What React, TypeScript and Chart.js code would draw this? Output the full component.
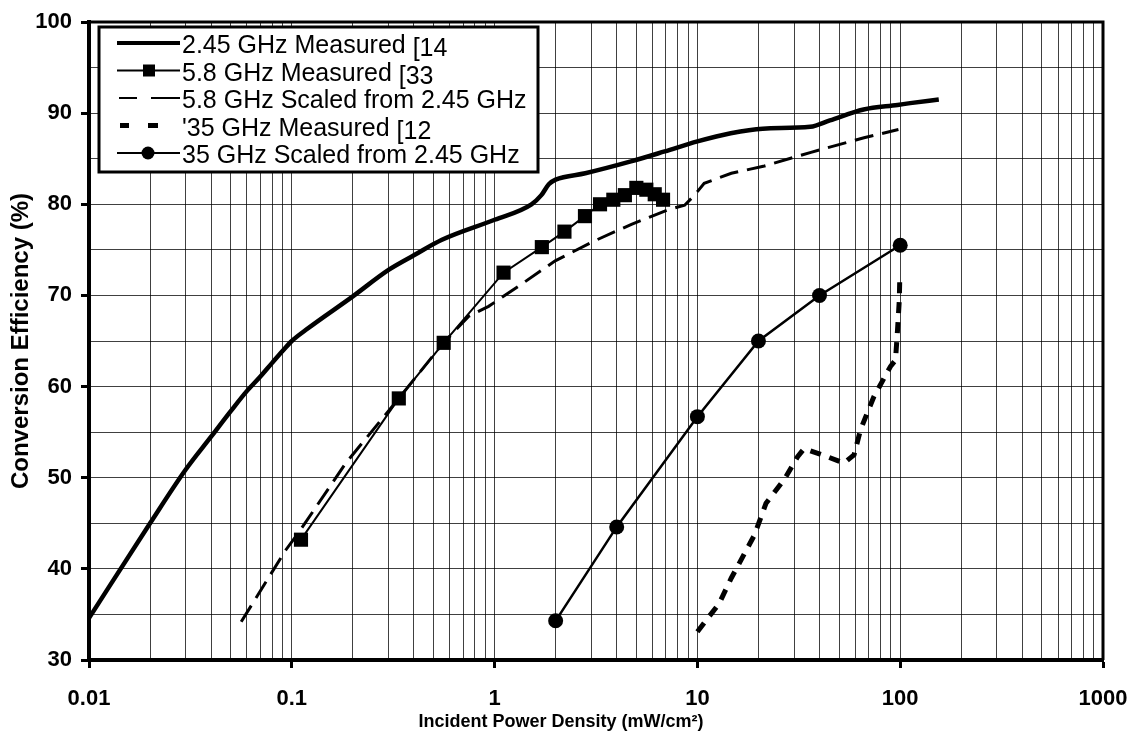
import React, { useEffect, useRef } from 'react';
import { Chart, registerables } from 'chart.js';

Chart.register(...registerables);

// ---------- data ----------
const xTickLabels = ['0.01', '0.1', '1', '10', '100', '1000'];
const yTickLabels = ['30', '40', '50', '60', '70', '80', '90', '100'];
const seriesLabels = [
  '2.45 GHz Measured [14',
  '5.8 GHz Measured [33',
  '5.8 GHz Scaled from 2.45 GHz',
  "'35 GHz Measured [12",
  '35 GHz Scaled from 2.45 GHz',
];
const xTitle = 'Incident Power Density (mW/cm²)';
const yTitle = 'Conversion Efficiency (%)';

const meas245X = [0.01, 0.02, 0.03, 0.04, 0.05, 0.06, 0.07, 0.08, 0.09, 0.1, 0.117, 0.2, 0.3, 0.4, 0.55, 1.0, 1.52, 1.7, 1.85, 2.0, 2.8, 4.7, 6.9, 10, 14.6, 21, 36, 45, 66, 97, 112, 155];
const meas245Y = [34.6, 45.0, 50.9, 54.5, 57.3, 59.5, 61.1, 62.6, 63.9, 65.0, 66.2, 69.9, 72.8, 74.4, 76.1, 78.3, 80.0, 81.0, 82.2, 82.7, 83.4, 84.7, 85.8, 86.9, 87.8, 88.3, 88.5, 89.2, 90.4, 90.9, 91.1, 91.5];

const meas58X = [0.111, 0.337, 0.561, 1.107, 1.71, 2.21, 2.79, 3.31, 3.85, 4.39, 5.0, 5.6, 6.16, 6.77];
const meas58Y = [43.2, 58.7, 64.8, 72.5, 75.3, 77.0, 78.7, 80.0, 80.5, 81.0, 81.8, 81.6, 81.1, 80.5];

const scaled58X = [0.0563, 0.0936, 0.109, 0.1845, 0.337, 0.55, 0.744, 0.934, 1.31, 1.99, 3.12, 4.73, 7.16, 8.65, 9.68, 10.8, 14.7, 21.4, 36.3, 66.3, 98];
const scaled58Y = [34.2, 42.1, 44.1, 51.6, 58.7, 64.6, 67.7, 68.8, 71.0, 73.8, 76.0, 77.8, 79.4, 79.9, 81.0, 82.3, 83.4, 84.2, 85.7, 87.3, 88.2];

const meas35X = [10.0, 12.8, 14.7, 19.1, 21.8, 26.8, 31.2, 33.6, 43.7, 52.8, 59.2, 63.8, 74.2, 89.5, 94.8, 97, 99, 99.6];
const meas35Y = [33.1, 36.2, 39.0, 43.7, 47.2, 49.8, 52.3, 53.2, 52.3, 51.6, 52.5, 55.3, 58.9, 62.2, 62.9, 66.2, 69.5, 72.3];

const scaled35X = [2, 4, 10, 20, 40, 100];
const scaled35Y = [34.3, 44.6, 56.7, 65.0, 70.0, 75.5];

// ---------- helpers ----------
const FONT = "'Liberation Sans', Arial, Helvetica, sans-serif";
const pts = (xs: number[], ys: number[]) => xs.map((x, i) => ({ x, y: ys[i] }));
const decades = xTickLabels.map(Number);
const xTickValues: number[] = [];
decades.forEach((d, i) => {
  if (i === decades.length - 1) {
    xTickValues.push(d);
  } else {
    for (let k = 1; k <= 9; k++) xTickValues.push(Number((k * d).toPrecision(6)));
  }
});
const decadeLabel = (v: number) => {
  const idx = decades.findIndex((d) => Math.abs(Math.log10(v) - Math.log10(d)) < 1e-6);
  return idx >= 0 ? xTickLabels[idx] : '';
};

const legendPlugin = {
  id: 'boxLegend',
  afterDatasetsDraw(chart: any) {
    const { ctx, chartArea } = chart;
    ctx.save();
    ctx.strokeStyle = '#000';
    ctx.lineWidth = 3;
    ctx.beginPath();
    ctx.moveTo(chartArea.left, chartArea.top);
    ctx.lineTo(chartArea.right, chartArea.top);
    ctx.lineTo(chartArea.right, chartArea.bottom);
    ctx.stroke();
    ctx.restore();
  },
  afterDraw(chart: any) {
    const { ctx } = chart;
    ctx.save();
    // x-axis title
    ctx.fillStyle = '#000';
    ctx.font = `bold 18px ${FONT}`;
    ctx.textAlign = 'center';
    ctx.textBaseline = 'alphabetic';
    ctx.fillText(xTitle, 561, 727);

    // legend box
    const bx = 99, by = 27, bw = 439, bh = 145;
    ctx.fillStyle = '#fff';
    ctx.fillRect(bx, by, bw, bh);
    ctx.strokeStyle = '#000';
    ctx.lineWidth = 3;
    ctx.strokeRect(bx, by, bw, bh);

    const rows = [43, 70.5, 98, 125.5, 153];
    const x0 = 117, x1 = 180, xm = 149;
    chart.data.datasets.forEach((ds: any, i: number) => {
      const y = rows[i];
      ctx.strokeStyle = '#000';
      ctx.fillStyle = '#000';
      ctx.setLineDash([]);
      if (i === 0) {
        ctx.lineWidth = 4;
        ctx.beginPath(); ctx.moveTo(x0, y); ctx.lineTo(x1, y); ctx.stroke();
      } else if (i === 1) {
        ctx.lineWidth = 2;
        ctx.beginPath(); ctx.moveTo(x0, y); ctx.lineTo(x1, y); ctx.stroke();
        ctx.fillRect(xm - 6, y - 6, 12, 12);
      } else if (i === 2) {
        ctx.lineWidth = 2;
        ctx.beginPath(); ctx.moveTo(x0 + 2, y); ctx.lineTo(x0 + 20, y); ctx.stroke();
        ctx.beginPath(); ctx.moveTo(x0 + 34, y); ctx.lineTo(x1, y); ctx.stroke();
      } else if (i === 3) {
        ctx.fillRect(x0 + 3, y - 2.5, 9, 5);
        ctx.fillRect(x0 + 31, y - 2.5, 10, 5);
      } else {
        ctx.lineWidth = 2;
        ctx.beginPath(); ctx.moveTo(x0, y); ctx.lineTo(x1, y); ctx.stroke();
        ctx.beginPath(); ctx.arc(xm - 1, y, 6.5, 0, Math.PI * 2); ctx.fill();
      }
      // label
      const label: string = ds.label;
      ctx.font = `25px ${FONT}`;
      ctx.textAlign = 'left';
      ctx.textBaseline = 'alphabetic';
      const bi = label.indexOf('[');
      const tx = 182;
      if (bi >= 0) {
        const main = label.slice(0, bi);
        const suf = label.slice(bi);
        ctx.fillText(main, tx, y + 10);
        const w = ctx.measureText(main).width;
        ctx.fillText(suf, tx + w, y + 13);
      } else {
        ctx.fillText(label, tx, y + 10);
      }
    });
    ctx.restore();
  },
};

export default function App() {
  const ref = useRef<HTMLCanvasElement>(null);
  useEffect(() => {
    if (!ref.current) return;
    const gridColor = 'rgba(0,0,0,0.75)';
    const chart = new Chart(ref.current, {
      type: 'line',
      data: {
        datasets: [
          {
            label: seriesLabels[0],
            data: pts(meas245X, meas245Y),
            borderColor: '#000',
            borderWidth: 4.5,
            pointRadius: 0,
            cubicInterpolationMode: 'monotone',
          },
          {
            label: seriesLabels[1],
            data: pts(meas58X, meas58Y),
            borderColor: '#000',
            borderWidth: 2,
            pointStyle: 'rect',
            pointRadius: 10,
            pointBackgroundColor: '#000',
            pointBorderColor: '#000',
            pointBorderWidth: 0,
          },
          {
            label: seriesLabels[2],
            data: pts(scaled58X, scaled58Y),
            borderColor: '#000',
            borderWidth: 3,
            borderDash: [19, 9],
            pointRadius: 0,
          },
          {
            label: seriesLabels[3],
            data: pts(meas35X, meas35Y),
            borderColor: '#000',
            borderWidth: 5,
            borderDash: [11, 9],
            pointRadius: 0,
          },
          {
            label: seriesLabels[4],
            data: pts(scaled35X, scaled35Y),
            borderColor: '#000',
            borderWidth: 2.5,
            pointStyle: 'circle',
            pointRadius: 7.5,
            pointBackgroundColor: '#000',
            pointBorderColor: '#000',
            pointBorderWidth: 0,
          },
        ],
      },
      options: {
        responsive: false,
        animation: false,
        layout: { padding: { top: 22, right: 32, left: 0, bottom: 0 } },
        plugins: {
          legend: { display: false },
          tooltip: { enabled: false },
        },
        scales: {
          x: {
            type: 'logarithmic',
            min: 0.01,
            max: 1000,
            afterBuildTicks: (scale: any) => {
              scale.ticks = xTickValues.map((v) => ({ value: v }));
            },
            afterFit: (scale: any) => {
              scale.height = 77;
              scale.paddingLeft = 0;
              scale.paddingRight = 0;
            },
            ticks: {
              autoSkip: false,
              maxRotation: 0,
              minRotation: 0,
              padding: 18,
              color: '#000',
              font: { family: FONT, size: 22, weight: 'bold' },
              callback: (value: any) => decadeLabel(Number(value)),
            },
            grid: {
              color: gridColor,
              lineWidth: 1,
              drawTicks: true,
              tickLength: 8,
              tickWidth: 3,
              tickColor: (c: any) => (c.tick && decadeLabel(c.tick.value) !== '' ? '#000' : 'rgba(0,0,0,0)'),
            },
            border: { display: true, color: '#000', width: 4 },
          },
          y: {
            type: 'linear',
            min: 30,
            max: 100,
            afterFit: (scale: any) => {
              scale.width = 89;
              scale.paddingTop = 0;
              scale.paddingBottom = 0;
            },
            ticks: {
              stepSize: 5,
              padding: 9,
              color: '#000',
              font: { family: FONT, size: 22, weight: 'bold' },
              callback: (value: any) => (yTickLabels.includes(String(value)) ? String(value) : ''),
            },
            grid: {
              color: gridColor,
              lineWidth: 1,
              drawTicks: true,
              tickLength: 8,
              tickWidth: 3,
              tickColor: (c: any) => (c.tick && yTickLabels.includes(String(c.tick.value)) ? '#000' : 'rgba(0,0,0,0)'),
            },
            border: { display: true, color: '#000', width: 4 },
            title: {
              display: true,
              text: yTitle,
              color: '#000',
              font: { family: FONT, size: 24, weight: 'bold' },
              padding: { top: 7, bottom: 0 },
            },
          },
        },
      },
      plugins: [legendPlugin],
    } as any);
    return () => chart.destroy();
  }, []);
  return (
    <div style={{ position: 'fixed', left: 0, top: 0, width: 1135, height: 737, background: '#fff' }}>
      <canvas ref={ref} width={1135} height={737} style={{ display: 'block', width: 1135, height: 737 }} />
    </div>
  );
}
